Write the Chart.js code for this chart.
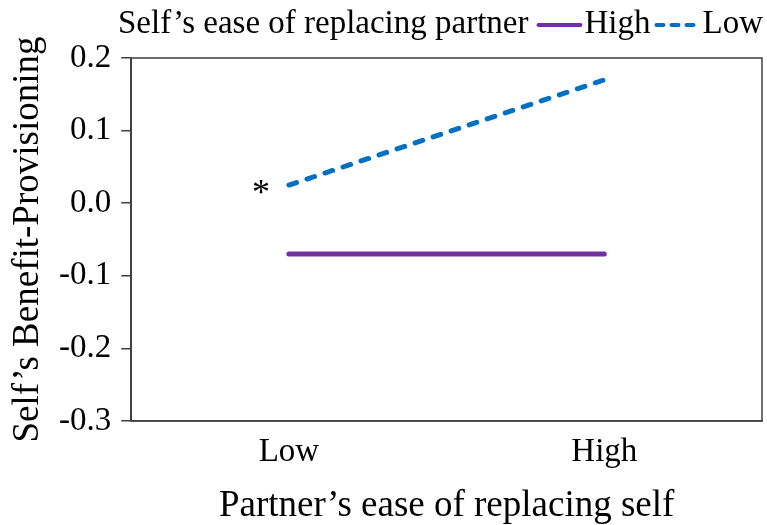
<!DOCTYPE html>
<html>
<head>
<meta charset="utf-8">
<script src="https://cdn.jsdelivr.net/npm/chart.js@4"></script>
<style>
  html, body { margin: 0; padding: 0; background: #fff; }
  #wrap { width: 767px; height: 525px; }
</style>
</head>
<body>
<div id="wrap"><canvas id="chart" width="767" height="525"></canvas></div>
<script>
// data
const categories = ['Low', 'High'];
const highSeries = [-0.07, -0.07];
const lowSeries = [0.025, 0.17];
const yTicks = [-0.3, -0.2, -0.1, 0.0, 0.1, 0.2];
const seriesNames = ['High', 'Low'];
const legendTitle = 'Self\u2019s ease of replacing partner';

const FONT = '"Liberation Serif", "Times New Roman", serif';

// box around plot + legend row + asterisk
const extras = {
    id: 'extras',
    afterDraw(chart) {
        const ctx = chart.ctx;
        const a = chart.chartArea;
        ctx.save();
        ctx.strokeStyle = '#404040';
        ctx.lineWidth = 1.5;
        ctx.strokeRect(a.left, a.top, a.right - a.left, a.bottom - a.top);

        // legend drawn inline
        ctx.font = '33px ' + FONT;
        ctx.fillStyle = '#000';
        ctx.textBaseline = 'middle';
        let x = 118;
        const y = 24;
        ctx.fillText(legendTitle, x, y);
        x += ctx.measureText(legendTitle).width + 8;
        chart.data.datasets.forEach(ds => {
            ctx.strokeStyle = ds.borderColor;
            ctx.lineWidth = 4;
            ctx.lineCap = 'round';
            ctx.setLineDash(ds.borderDash ? [7, 8] : []);
            ctx.beginPath();
            ctx.moveTo(x + 2, y + 1);
            ctx.lineTo(x + 44, y + 1);
            ctx.stroke();
            ctx.setLineDash([]);
            x += 48;
            ctx.fillText(ds.label, x, y);
            x += ctx.measureText(ds.label).width + 4;
        });

        // significance mark next to the Low point
        const xs = chart.scales.x, ys = chart.scales.y;
        ctx.textAlign = 'center';
        ctx.textBaseline = 'alphabetic';
        ctx.font = '36px ' + FONT;
        ctx.fillText('*', xs.getPixelForValue(0) - 28, ys.getPixelForValue(lowSeries[0]) + 19);
        ctx.restore();
    }
};

new Chart(document.getElementById('chart'), {
    type: 'line',
    data: {
        labels: categories,
        datasets: [
            {
                label: seriesNames[0],
                data: highSeries,
                borderColor: '#7030A0',
                borderWidth: 5,
                borderCapStyle: 'round',
                pointRadius: 0,
                fill: false
            },
            {
                label: seriesNames[1],
                data: lowSeries,
                borderColor: '#0070C0',
                borderWidth: 5,
                borderDash: [8, 11],
                borderCapStyle: 'round',
                pointRadius: 0,
                fill: false
            }
        ]
    },
    options: {
        responsive: false,
        animation: false,
        layout: { padding: { top: 58, right: 5, left: 8, bottom: 0 } },
        plugins: {
            legend: { display: false },
            tooltip: { enabled: false }
        },
        scales: {
            x: {
                offset: true,
                grid: { display: false, drawTicks: false },
                border: { color: '#404040', width: 1.5 },
                ticks: { color: '#000', font: { family: FONT, size: 33, lineHeight: 1 }, padding: 15 },
                title: {
                    display: true,
                    text: 'Partner\u2019s ease of replacing self',
                    color: '#000',
                    font: { family: FONT, size: 37, lineHeight: 1 },
                    padding: { top: 4, bottom: 0 }
                }
            },
            y: {
                min: -0.3,
                max: 0.2,
                afterBuildTicks(scale) {
                    scale.ticks = yTicks.map(v => ({ value: v }));
                },
                grid: { drawOnChartArea: false, tickLength: 10, color: '#404040', lineWidth: 1.5 },
                border: { color: '#404040', width: 1.5 },
                ticks: {
                    color: '#000',
                    font: { family: FONT, size: 33 },
                    padding: 10,
                    callback: v => v.toFixed(1)
                },
                title: {
                    display: true,
                    text: 'Self\u2019s Benefit-Provisioning',
                    color: '#000',
                    font: { family: FONT, size: 37, lineHeight: 1 },
                    padding: { top: 2, bottom: 2 }
                }
            }
        }
    },
    plugins: [extras]
});
</script>
</body>
</html>
